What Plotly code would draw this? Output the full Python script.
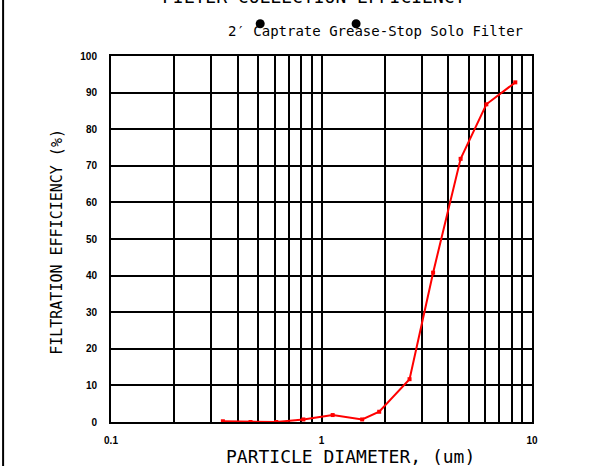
import plotly.graph_objects as go

# ---- data ----
diameter_um = [0.34, 0.46, 0.61, 0.82, 1.13, 1.56, 1.88, 2.62, 3.39, 4.58, 6.07, 8.33]
efficiency_pct = [0.2, 0.0, 0.0, 0.7, 1.9, 0.7, 2.8, 11.7, 40.8, 71.9, 86.8, 92.8]

x_grid_vals = [0.1, 0.2, 0.3, 0.4, 0.5, 0.6, 0.7, 0.8, 0.9,
               1, 2, 3, 4, 5, 6, 7, 8, 9, 10]
x_labelled = {0.1: "0.1", 1: "1", 10: "10"}
x_tick_text = [x_labelled.get(v, "") for v in x_grid_vals]
y_tick_vals = [0, 10, 20, 30, 40, 50, 60, 70, 80, 90, 100]
y_tick_text = [str(v) for v in y_tick_vals]

title_text = "FILTER COLLECTION EFFICIENCY"
subtitle_text = "2\u2032 Captrate Grease-Stop Solo Filter"
x_title = "PARTICLE DIAMETER, (um)"
y_title = "FILTRATION EFFICIENCY (%)"

MONO = "DejaVu Sans Mono"
TICKFONT = dict(family="Liberation Sans Narrow, Liberation Sans, sans-serif", size=10,
                color="black", weight="bold")

fig = go.Figure()
fig.add_trace(go.Scatter(
    x=diameter_um, y=efficiency_pct, mode="lines+markers",
    line=dict(color="#ff0000", width=2),
    marker=dict(symbol="square", size=4, color="#ff0000"),
    showlegend=False, cliponaxis=False,
))

dot_rx, dot_ry = 0.0107, 0.0123
dot_y = 1.088

fig.update_layout(
    width=595, height=466,
    margin=dict(l=111, r=63, t=56, b=44, pad=0),
    paper_bgcolor="white", plot_bgcolor="white",
    xaxis=dict(
        type="log", range=[-1, 1],
        tickmode="array", tickvals=x_grid_vals, ticktext=x_tick_text,
        showgrid=True, gridcolor="black", gridwidth=2,
        showline=True, linecolor="black", linewidth=2, mirror=True,
        ticks="", tickfont=TICKFONT, ticklabelstandoff=8,
        zeroline=False,
    ),
    yaxis=dict(
        range=[0, 100],
        tickmode="array", tickvals=y_tick_vals, ticktext=y_tick_text,
        showgrid=True, gridcolor="black", gridwidth=2,
        showline=True, linecolor="black", linewidth=2, mirror=True,
        ticks="", tickfont=TICKFONT, ticklabelstandoff=10,
        zeroline=False,
    ),
    annotations=[
        dict(text=title_text, xref="paper", yref="paper", x=0.4827, y=1.128,
             xanchor="center", yanchor="bottom", showarrow=False,
             font=dict(family=MONO, size=18, color="black")),
        dict(text=subtitle_text, xref="paper", yref="paper", x=0.628, y=1.068,
             xanchor="center", yanchor="middle", showarrow=False,
             font=dict(family=MONO, size=14, color="black")),
        dict(text=x_title, xref="paper", yref="paper", x=0.568, y=-0.093,
             xanchor="center", yanchor="middle", showarrow=False,
             font=dict(family=MONO, size=18, color="black")),
        dict(text=y_title, xref="paper", yref="paper", x=-0.1287, y=0.4918,
             xanchor="center", yanchor="middle", showarrow=False, textangle=-90,
             font=dict(family=MONO, size=15, color="black")),
    ],
    shapes=[
        dict(type="circle", xref="paper", yref="paper",
             x0=0.3544 - dot_rx, x1=0.3544 + dot_rx, y0=dot_y - dot_ry, y1=dot_y + dot_ry,
             fillcolor="black", line=dict(color="black", width=0)),
        dict(type="circle", xref="paper", yref="paper",
             x0=0.5822 - dot_rx, x1=0.5822 + dot_rx, y0=dot_y - dot_ry, y1=dot_y + dot_ry,
             fillcolor="black", line=dict(color="black", width=0)),
        dict(type="line", xref="paper", yref="paper",
             x0=-0.2563, x1=-0.2563, y0=-0.13, y1=1.16,
             line=dict(color="black", width=2)),
    ],
)

fig.write_html(
    "out.html",
    config={"displayModeBar": False},
    post_script="document.body.style.margin='0';document.body.style.overflow='hidden';",
)
